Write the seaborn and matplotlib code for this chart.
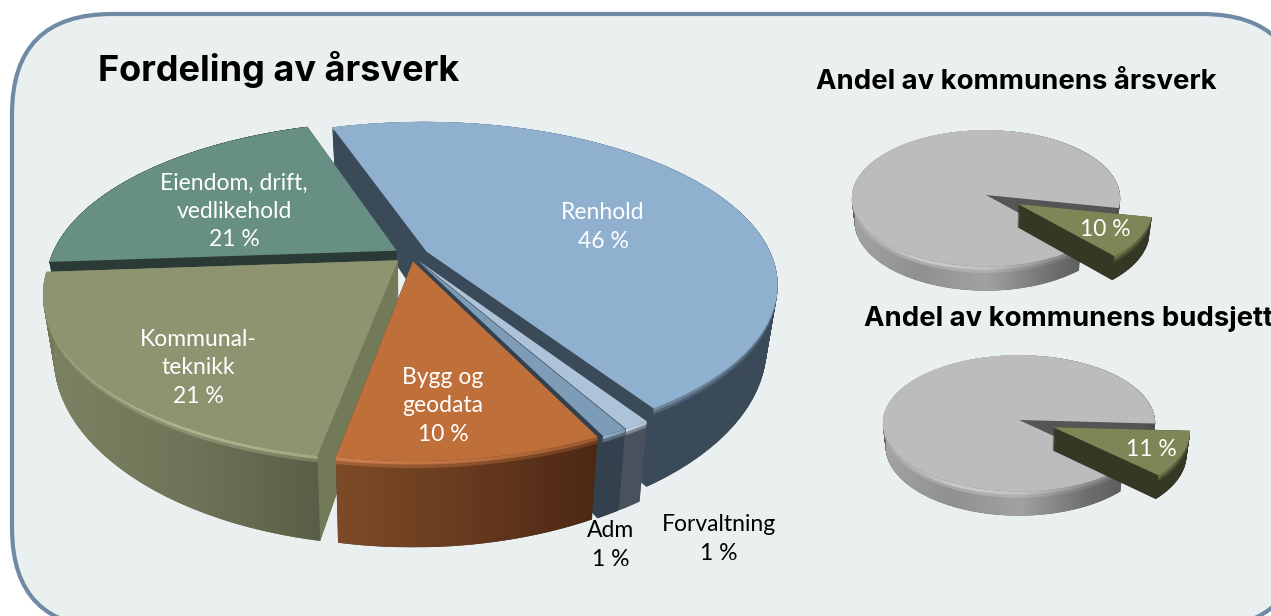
import numpy as np
import seaborn as sns
import matplotlib.pyplot as plt
from matplotlib.patches import FancyBboxPatch, Polygon
from matplotlib.transforms import Transform

W, H = 1271, 616

# share of man-years, clockwise from the Renhold slice
sections = ['Renhold', 'Forvaltning', 'Adm', 'Bygg og\ngeodata', 'Kommunal-\nteknikk', 'Eiendom, drift,\nvedlikehold']
shares = [46, 1, 1, 10, 21, 21]
share_aarsverk = [10, 90]
share_budsjett = [11, 89]

top_colors = ['#8fb0ce', '#adc3da', '#7d9cb8', '#bf6f3a', '#8e946f', '#678f84']
cut_colors = ['#3b4a58', '#49525c', '#33414e', '#33414e', '#737a5a', '#2a3a36']
rim_colors = [['#8fb0ce', '#7d99b3', '#5d7389'], ['#c4d3e2', '#aebccb'], ['#92adc6', '#7f99b1'],
              ['#cf7f4c', '#bd7040', '#9a5a2e'], ['#9a9f7a', '#b0b590', '#a3a880'], ['#2a3a36', '#2a3a36']]
wall_colors = [['#3b4a58', '#3b4a58'], ['#49525c', '#49525c'], ['#33414e', '#33414e'],
               ['#7d4b27', '#683a1f', '#4c2814'], ['#7c8262', '#707559', '#5a5e46'], ['#2a3a36', '#2a3a36']]
small_tops = ['#7f8556', '#bcbcbc']
small_cuts = ['#353825', '#555555']
small_rims = [['#6f7449', '#53573a'], ['#a8a8a8', '#cacaca', '#c4c4c4', '#8e8e8e', '#6a6a6a']]
small_walls = [['#353825', '#353825'], ['#a3a3a3', '#909090', '#a2a2a2', '#6e6e6e', '#4c4c4c']]


class Perspective(Transform):
    """Tilted disc: pie coordinates to pixels, z runs from top face (0) to bottom face (1)."""
    input_dims = 2
    output_dims = 2

    def __init__(self, cx, cy, rx, ry, tilt, drop, shrink, z=0.0):
        super().__init__()
        self.cx, self.cy, self.rx, self.ry = cx, cy, rx, ry
        self.tilt, self.drop, self.shrink, self.z = tilt, drop, shrink, z

    def transform_non_affine(self, values):
        x, y = np.asarray(values).T
        w = 1 + self.tilt * y
        s = 1 - self.shrink * self.z
        return np.column_stack([self.cx + self.rx * x * s / w,
                                H - self.cy + self.ry * y * s / w - self.drop * self.z / w ** 2])


def band(ax, arc, proj, z0, z1, stops, zorder, alpha=1.0):
    # part of the outer wall between two heights, gradient runs left to right
    pts = np.vstack([proj(z0).transform(arc), proj(z1).transform(arc)[::-1]])
    cmap = sns.blend_palette(stops, as_cmap=True)
    im = ax.imshow(np.linspace(0, 1, 256).reshape(1, -1), cmap=cmap, aspect='auto', alpha=alpha,
                   extent=(pts[:, 0].min(), pts[:, 0].max(), pts[:, 1].min(), pts[:, 1].max()),
                   zorder=zorder)
    im.set_clip_path(Polygon(pts, transform=ax.transData))


def draw_pie(ax, values, tops, rims, cuts, walls, start, explode, order, geom, layers, bevel):
    def proj(z):
        return Perspective(*geom, z=z)

    opts = dict(startangle=start, counterclock=False, explode=explode, wedgeprops=dict(linewidth=0))

    # stacked discs make the cut faces
    for z in np.linspace(1, 0, layers):
        wedges, _ = ax.pie(values, colors=cuts, **opts)
        for i, w in enumerate(wedges):
            w.set_transform(proj(z) + ax.transData)
            w.set_zorder(2 + order[i])

    # outer wall and bevel
    for i, w in enumerate(wedges):
        t = np.radians(np.linspace(w.theta1, w.theta2, 120))
        arc = np.column_stack([w.center[0] + np.cos(t), w.center[1] + np.sin(t)])
        base = 2 + order[i]
        band(ax, arc, proj, 0, 1, walls[i], base + 0.4)
        band(ax, arc, proj, 0, bevel * 2, rims[i], base + 0.5, alpha=0.45)
        band(ax, arc, proj, 0, bevel, rims[i], base + 0.6)

    # top face
    wedges, _ = ax.pie(values, colors=tops, **opts)
    for i, w in enumerate(wedges):
        w.set_transform(proj(0) + ax.transData)
        w.set_zorder(2 + order[i] + 0.7)


sns.set_theme(style='white')
plt.rcParams['font.family'] = ['Lato', 'DejaVu Sans']

fig = plt.figure(figsize=(W / 100, H / 100), dpi=100)
ax = fig.add_axes([0, 0, 1, 1])

# rounded panel
ax.add_patch(FancyBboxPatch((12 + 100, H - 628 + 100), 1290 - 200, 614 - 200,
                            boxstyle='round,pad=100,rounding_size=100',
                            facecolor='#eaf0f0', edgecolor='#6f8aa5', linewidth=3, zorder=1))

draw_pie(ax, shares, top_colors, rim_colors, cut_colors, wall_colors, 108.5,
         [0.05, 0.04, 0.04, 0.04, 0.05, 0.05], [0, 3, 4, 5, 2, 1],
         (411, 255, 345, 157, 0.2, 58, 0.03), 100, 0.04)
draw_pie(ax, share_aarsverk, small_tops, small_rims, small_cuts, small_walls, -11,
         [0.27, 0], [1, 0], (986, 195, 134, 68, 0.05, 23, 0.02), 40, 0.13)
draw_pie(ax, share_budsjett, small_tops, small_rims, small_cuts, small_walls, -3,
         [0.27, 0], [1, 0], (1019, 420, 136, 68, 0.05, 23, 0.02), 40, 0.13)

# slice labels
label_x = [603, 719, 611, 443, 198, 234]
label_y = [227, 539, 545, 406, 368, 211]
label_color = ['white', 'black', 'black', 'white', 'white', 'white']
for name, val, x, y, c in zip(sections, shares, label_x, label_y, label_color):
    ax.text(x, H - y, f'{name}\n{val} %', color=c, fontsize=16.5, ha='center', va='center',
            linespacing=1.42, zorder=20)
ax.text(1105, H - 230, f'{share_aarsverk[0]} %', color='white', fontsize=16.5, ha='center', va='center', zorder=20)
ax.text(1151, H - 450, f'{share_budsjett[0]} %', color='white', fontsize=16.5, ha='center', va='center', zorder=20)

ax.text(98, H - 69, 'Fordeling av årsverk', fontsize=26, fontweight='bold', family=['Inter', 'DejaVu Sans'],
        color='black', ha='left', va='center', zorder=20)
ax.text(1016, H - 82, 'Andel av kommunens årsverk', fontsize=19.8, fontweight='bold', family=['Inter', 'DejaVu Sans'],
        color='black', ha='center', va='center', zorder=20)
ax.text(864, H - 319, 'Andel av kommunens budsjett', fontsize=19.8, fontweight='bold', family=['Inter', 'DejaVu Sans'],
        color='black', ha='left', va='center', zorder=20)

ax.set_aspect('auto')
ax.set_xlim(0, W)
ax.set_ylim(0, H)
ax.axis('off')

plt.savefig('out.png', dpi=100)
plt.close()
